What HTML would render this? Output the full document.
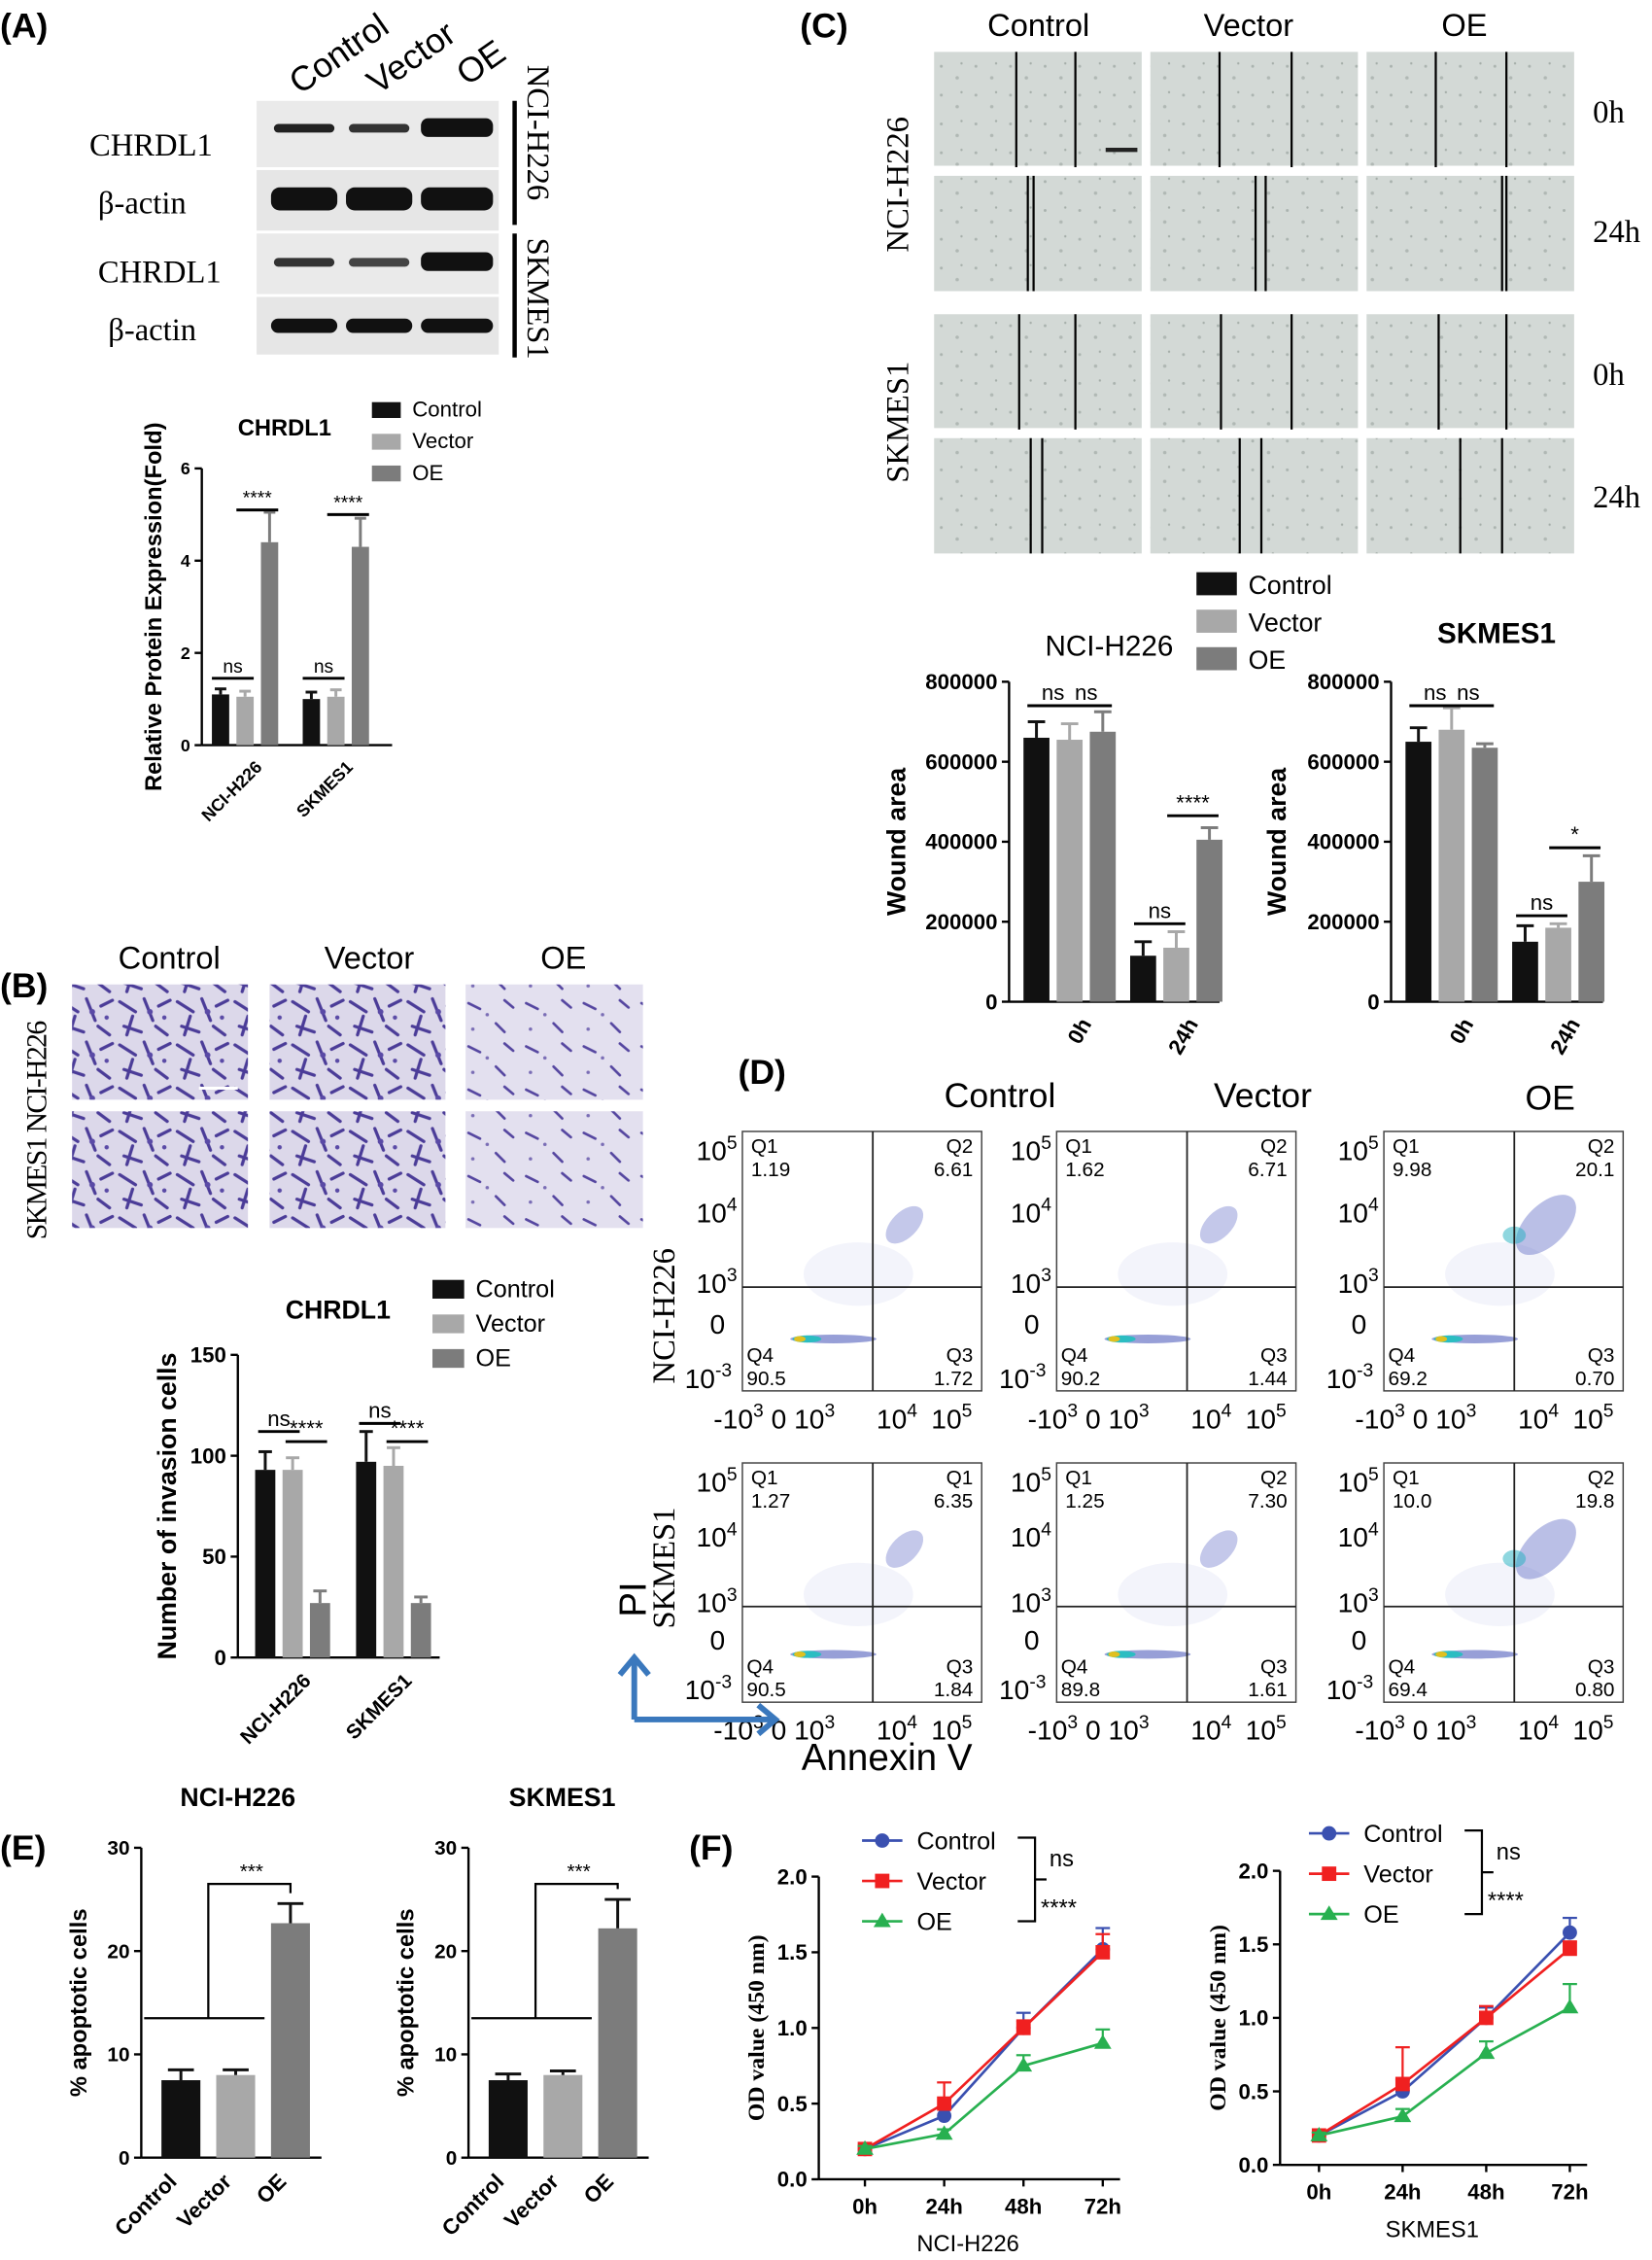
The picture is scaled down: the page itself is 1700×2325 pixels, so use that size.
<!DOCTYPE html>
<html><head><meta charset="utf-8">
<style>
html,body{margin:0;padding:0;background:#fff;}
svg{display:block;font-family:"Liberation Sans",sans-serif;}
.serif{font-family:"Liberation Serif",serif;}
.b{font-weight:bold;}
</style></head>
<body>
<svg id="fig" width="1700" height="2325" viewBox="0 0 1146 1568" preserveAspectRatio="none" xmlns="http://www.w3.org/2000/svg">
<defs>
<pattern id="cells" width="40" height="30" patternUnits="userSpaceOnUse">
<rect width="40" height="30" fill="#dcd8ea"/>
<path d="M3 5 L14 12 M20 3 L26 18 M30 8 L38 4 M6 22 L18 26 M28 22 L36 28 M12 15 L8 28" stroke="#4b3c98" stroke-width="2.2" stroke-linecap="round"/>
<circle cx="24" cy="12" r="2" fill="#5a4aa6"/><circle cx="34" cy="16" r="1.5" fill="#5a4aa6"/>
</pattern>
<pattern id="cellsLight" width="40" height="30" patternUnits="userSpaceOnUse">
<rect width="40" height="30" fill="#e3e0ef"/>
<path d="M5 6 L13 10 M24 20 L30 26 M30 4 L36 9" stroke="#5546a0" stroke-width="1.8" stroke-linecap="round"/>
<circle cx="18" cy="14" r="1.2" fill="#7a6db5"/><circle cx="8" cy="24" r="1.2" fill="#7a6db5"/>
</pattern>
<pattern id="wound" width="24" height="20" patternUnits="userSpaceOnUse">
<rect width="24" height="20" fill="#d3d9d6"/>
<circle cx="5" cy="6" r="1" fill="#aab3af"/><circle cx="16" cy="14" r="1.2" fill="#b0b8b4"/><circle cx="19" cy="4" r="0.8" fill="#a5aea9"/>
</pattern>
<marker id="arrow" markerUnits="userSpaceOnUse" markerWidth="20" markerHeight="24" refX="12" refY="12" orient="auto"><path d="M2,2 L14,12 L2,22" fill="none" stroke="#3a78bd" stroke-width="4"/></marker>
</defs>

<text x="0" y="26" font-size="24" class="b">(A)</text>
<text x="0" y="692" font-size="24" class="b">(B)</text>
<text x="555" y="26" font-size="24" class="b">(C)</text>
<text x="512" y="752" font-size="24" class="b">(D)</text>
<text x="0" y="1290" font-size="24" class="b">(E)</text>
<text x="478" y="1290" font-size="24" class="b">(F)</text>

<g>
<text transform="translate(208,66) rotate(-35)" font-size="24">Control</text>
<text transform="translate(262,66) rotate(-35)" font-size="24">Vector</text>
<text transform="translate(324,60) rotate(-35)" font-size="24">OE</text>
<rect x="178" y="70" width="168" height="46" fill="#eaeaea"/>
<rect x="178" y="118" width="168" height="42" fill="#e6e6e6"/>
<rect x="178" y="162" width="168" height="42" fill="#eaeaea"/>
<rect x="178" y="206" width="168" height="40" fill="#e6e6e6"/>
<rect x="190" y="86" width="42" height="6" rx="3" fill="#222"/>
<rect x="242" y="86" width="42" height="6" rx="3" fill="#333"/>
<rect x="292" y="82" width="50" height="13" rx="5" fill="#111"/>
<rect x="188" y="130" width="46" height="16" rx="6" fill="#111"/>
<rect x="240" y="130" width="46" height="16" rx="6" fill="#111"/>
<rect x="292" y="130" width="50" height="16" rx="6" fill="#111"/>
<rect x="190" y="179" width="42" height="6" rx="3" fill="#333"/>
<rect x="242" y="179" width="42" height="6" rx="3" fill="#444"/>
<rect x="292" y="175" width="50" height="13" rx="5" fill="#111"/>
<rect x="188" y="221" width="46" height="10" rx="5" fill="#111"/>
<rect x="240" y="221" width="46" height="10" rx="5" fill="#111"/>
<rect x="292" y="221" width="50" height="10" rx="5" fill="#111"/>
<text x="62" y="108" font-size="22" class="serif">CHRDL1</text>
<text x="68" y="148" font-size="22" class="serif">β-actin</text>
<text x="68" y="196" font-size="22" class="serif">CHRDL1</text>
<text x="75" y="236" font-size="22" class="serif">β-actin</text>
<line x1="357" y1="70" x2="357" y2="156" stroke="#000" stroke-width="3"/>
<line x1="357" y1="162" x2="357" y2="248" stroke="#000" stroke-width="3"/>
<text transform="translate(366,45) rotate(90)" font-size="22" class="serif">NCI-H226</text>
<text transform="translate(366,165) rotate(90)" font-size="22" class="serif">SKMES1</text>
</g>

<g>
<text x="82" y="672" font-size="22">Control</text>
<text x="225" y="672" font-size="22">Vector</text>
<text x="375" y="672" font-size="22">OE</text>
<rect x="50" y="683" width="122" height="80" fill="url(#cells)"/>
<rect x="187" y="683" width="122" height="80" fill="url(#cells)"/>
<rect x="323" y="683" width="123" height="80" fill="url(#cellsLight)"/>
<rect x="50" y="771" width="122" height="81" fill="url(#cells)"/>
<rect x="187" y="771" width="122" height="81" fill="url(#cells)"/>
<rect x="323" y="771" width="123" height="81" fill="url(#cellsLight)"/>
<line x1="138" y1="755" x2="165" y2="755" stroke="#fff" stroke-width="2"/>
<text transform="translate(32,860) rotate(-90)" font-size="20" class="serif" textLength="152">SKMES1 NCI-H226</text>
</g>

<g>
<text x="685" y="25" font-size="22">Control</text>
<text x="835" y="25" font-size="22">Vector</text>
<text x="1000" y="25" font-size="22">OE</text>
<text x="1105" y="85" font-size="22" class="serif">0h</text>
<text x="1105" y="168" font-size="22" class="serif">24h</text>
<text x="1105" y="267" font-size="22" class="serif">0h</text>
<text x="1105" y="352" font-size="22" class="serif">24h</text>
<text transform="translate(630,175) rotate(-90)" font-size="22" class="serif">NCI-H226</text>
<text transform="translate(630,335) rotate(-90)" font-size="22" class="serif">SKMES1</text>
<g id="woundGrid"></g>
</g>

<g>
<text x="655" y="768" font-size="24">Control</text>
<text x="842" y="768" font-size="24">Vector</text>
<text x="1058" y="770" font-size="24">OE</text>
<text transform="translate(468,960) rotate(-90)" font-size="22" class="serif">NCI-H226</text>
<text transform="translate(468,1130) rotate(-90)" font-size="22" class="serif">SKMES1</text>
<g id="flowGrid"></g>
<path d="M440 1193 L440 1152" stroke="#3a78bd" stroke-width="4" marker-end="url(#arrow)" fill="none"/>
<path d="M440 1193 L536 1193" stroke="#3a78bd" stroke-width="4" marker-end="url(#arrow)" fill="none"/>
<text transform="translate(448,1122) rotate(-90)" font-size="26">PI</text>
<text x="556" y="1228" font-size="26">Annexin V</text>
</g>

<g id="charts"></g>
</svg>

<script>
// ===== DATA =====
const aCats = ['NCI-H226', 'SKMES1'];
const aControl = [1.1, 1.0];
const aVector = [1.05, 1.05];
const aOE = [4.4, 4.3];
const aErrCtrl = [0.12, 0.15];
const aErrVec = [0.12, 0.15];
const aErrOE = [0.65, 0.62];
const aTicks = [0, 2, 4, 6];

const bCats = ['NCI-H226', 'SKMES1'];
const bControl = [93, 97];
const bVector = [93, 95];
const bOE = [27, 27];
const bErrCtrl = [9, 15];
const bErrVec = [6, 9];
const bErrOE = [6, 3];
const bTicks = [0, 50, 100, 150];

const cCats = ['0h', '24h'];
const cH226Control = [660000, 115000];
const cH226Vector = [655000, 135000];
const cH226OE = [675000, 405000];
const cH226ErrCtrl = [40000, 35000];
const cH226ErrVec = [40000, 40000];
const cH226ErrOE = [50000, 30000];
const cSKControl = [650000, 150000];
const cSKVector = [680000, 185000];
const cSKOE = [635000, 300000];
const cSKErrCtrl = [35000, 40000];
const cSKErrVec = [55000, 10000];
const cSKErrOE = [10000, 65000];
const cTicks = [0, 200000, 400000, 600000, 800000];

const eCats = ['Control', 'Vector', 'OE'];
const eH226 = [7.5, 8.0, 22.7];
const eH226Err = [1.0, 0.5, 1.9];
const eSK = [7.5, 8.0, 22.2];
const eSKErr = [0.6, 0.4, 2.8];
const eTicks = [0, 10, 20, 30];

const fTimes = ['0h', '24h', '48h', '72h'];
const fH226Control = [0.2, 0.42, 1.0, 1.52];
const fH226Vector = [0.2, 0.5, 1.0, 1.5];
const fH226OE = [0.2, 0.3, 0.75, 0.9];
const fH226ErrCtrl = [0.02, 0.05, 0.1, 0.14];
const fH226ErrVec = [0.02, 0.14, 0.05, 0.12];
const fH226ErrOE = [0.02, 0.03, 0.07, 0.09];
const fSKControl = [0.2, 0.5, 1.0, 1.58];
const fSKVector = [0.2, 0.55, 1.0, 1.47];
const fSKOE = [0.2, 0.33, 0.76, 1.07];
const fSKErrCtrl = [0.02, 0.08, 0.07, 0.1];
const fSKErrVec = [0.02, 0.25, 0.08, 0.05];
const fSKErrOE = [0.02, 0.05, 0.08, 0.16];
const fTicks = [0, 0.5, 1.0, 1.5, 2.0];

const flowQ1 = ['1.19', '1.62', '9.98', '1.27', '1.25', '10.0'];
const flowQ2 = ['6.61', '6.71', '20.1', '6.35', '7.30', '19.8'];
const flowQ3 = ['1.72', '1.44', '0.70', '1.84', '1.61', '0.80'];
const flowQ4 = ['90.5', '90.2', '69.2', '90.5', '89.8', '69.4'];
const flowQ1Label = ['Q1', 'Q1', 'Q1', 'Q1', 'Q1', 'Q1'];
const flowQ2Label = ['Q2', 'Q2', 'Q2', 'Q1', 'Q2', 'Q2'];

// ===== HELPERS =====
const NS = 'http://www.w3.org/2000/svg';
const root = document.getElementById('charts');
function mk(tag, attrs, parent) {
  const el = document.createElementNS(NS, tag);
  for (const k in attrs) el.setAttribute(k, attrs[k]);
  (parent || root).appendChild(el);
  return el;
}
function txt(s, attrs, parent) { const t = mk('text', attrs, parent); t.textContent = s; return t; }
const COLORS = ['#111111', '#a8a8a8', '#7c7c7c'];

function yAxis(g, x, y0, y1, vmax, ticks, fmt, fs) {
  const ax = mk('line', {x1: x, y1: y0, x2: x, y2: y1, stroke: '#000', 'stroke-width': 1.6}, g);
  
  
  ticks.forEach(t => {
    const y = y0 - t / vmax * (y0 - y1);
    mk('line', {x1: x - 5, y1: y, x2: x, y2: y, stroke: '#000', 'stroke-width': 1.6}, g);
    const lab = txt(fmt(t), {x: x - 8, y: y + fs * 0.35, 'font-size': fs, 'text-anchor': 'end', 'font-weight': 'bold'}, g);
    
    
  });
}

function barChart(o) {
  const g = mk('g', {});
  
  
  const sy = v => o.y0 - v / o.vmax * (o.y0 - o.y1);
  yAxis(g, o.x, o.y0, o.y1, o.vmax, o.ticks, o.fmt, o.tfs);
  const xa = mk('line', {x1: o.x, y1: o.y0, x2: o.xEnd, y2: o.y0, stroke: '#000', 'stroke-width': 1.6}, g);
  
  
  o.cats.forEach((c, i) => {
    const gx = o.gStart + i * o.gGap;
    o.series.forEach((s, j) => {
      const bx = gx + j * o.step;
      const v = s[i], e = o.errs[j][i];
      const col = COLORS[j];
      const r = mk('rect', {x: bx, y: sy(v), width: o.bw, height: o.y0 - sy(v), fill: col}, g);
      
      
      const cx = bx + o.bw / 2;
      mk('line', {x1: cx, y1: sy(v), x2: cx, y2: sy(v + e), stroke: col, 'stroke-width': 2}, g);
      mk('line', {x1: cx - o.bw / 3, y1: sy(v + e), x2: cx + o.bw / 3, y2: sy(v + e), stroke: col, 'stroke-width': 2}, g);
    });
    const lx = gx + (o.series.length * o.step) / 2 - 2;
    const lab = txt(c, {transform: `translate(${lx + (o.xlRot ? 6 : 0)},${o.y0 + 10}) rotate(${o.xlRot})`, 'font-size': o.xfs, 'text-anchor': o.xlRot ? 'end' : 'middle', 'font-weight': 'bold', dy: '0.7em'}, g);
    
    
    if (o.sig) o.sig[i].forEach(sg => {
      const [a, b, label, val] = sg;
      const ya = sy(val);
      const x1 = gx + a * o.step + (o.sigPad ? 1 : 0), x2 = gx + b * o.step + (o.sigPad ? o.bw - 1 : o.bw);
      const sl = mk('line', {x1: o.sigPad ? gx + a * o.step + o.bw * 0.15 : x1, y1: ya, x2: o.sigPad ? gx + b * o.step + o.bw * 0.85 : x2, y2: ya, stroke: '#000', 'stroke-width': 2}, g);
      
      
      const t = txt(label, {x: (x1 + x2) / 2, y: ya - 4, 'font-size': o.sfs, 'text-anchor': 'middle'}, g);
      
      
    });
  });
  const yl = txt(o.ylabel, {transform: `translate(${o.ylx},${(o.y0 + o.y1) / 2}) rotate(-90)`, 'font-size': o.yfs, 'text-anchor': 'middle', 'font-weight': 'bold'}, g);
  
  
  return {g, sy};
}

function legend(x, y, gap, w, h, fs, labels) {
  labels.forEach((l, i) => {
    const r = mk('rect', {x, y: y + i * gap, width: w, height: h, fill: COLORS[i]});
    
    
    const t = txt(l, {x: x + w + 8, y: y + i * gap + h - 1, 'font-size': fs});
    
    
  });
}

// ===== PANEL A =====
txt('CHRDL1', {x: 165, y: 302, 'font-size': 16, 'font-weight': 'bold'});
legend(258, 279, 22, 20, 11, 15, ['Control', 'Vector', 'OE']);
barChart({name: 'chart-a', cats: aCats, series: [aControl, aVector, aOE], errs: [aErrCtrl, aErrVec, aErrOE],
  x: 140, y0: 517, y1: 325, vmax: 6, ticks: aTicks, fmt: t => t, tfs: 12, xEnd: 272,
  gStart: 147, gGap: 63, step: 17, bw: 12, xlRot: -45, xfs: 12, ylabel: 'Relative Protein Expression(Fold)', ylx: 112, yfs: 16,
  sig: [[[0, 1, 'ns', 1.45], [1, 2, '****', 5.1]], [[0, 1, 'ns', 1.45], [1, 2, '****', 5.0]]], sfs: 13});

// ===== PANEL B =====
txt('CHRDL1', {x: 198, y: 915, 'font-size': 18, 'font-weight': 'bold'});
legend(300, 888, 24, 22, 13, 17, ['Control', 'Vector', 'OE']);
barChart({name: 'chart-b', cats: bCats, series: [bControl, bVector, bOE], errs: [bErrCtrl, bErrVec, bErrOE],
  x: 165, y0: 1150, y1: 940, vmax: 150, ticks: bTicks, fmt: t => t, tfs: 15, xEnd: 305,
  gStart: 177, gGap: 70, step: 19, bw: 14, xlRot: -45, xfs: 14, ylabel: 'Number of invasion cells', ylx: 122, yfs: 18,
  sig: [[[0, 1, 'ns', 112], [1, 2, '****', 107]], [[0, 1, 'ns', 116], [1, 2, '****', 107]]], sfs: 15, sigPad: true});

// ===== PANEL C =====
legend(830, 397, 26, 28, 16, 18, ['Control', 'Vector', 'OE']);
txt('NCI-H226', {x: 725, y: 455, 'font-size': 20});
txt('SKMES1', {x: 997, y: 446, 'font-size': 20, 'font-weight': 'bold'});
const cfmt = t => t;
barChart({name: 'chart-c-h226', cats: cCats, series: [cH226Control, cH226Vector, cH226OE], errs: [cH226ErrCtrl, cH226ErrVec, cH226ErrOE],
  x: 700, y0: 695, y1: 473, vmax: 800000, ticks: cTicks, fmt: cfmt, tfs: 15, xEnd: 846,
  gStart: 710, gGap: 74, step: 23, bw: 18, xlRot: -60, xfs: 15, ylabel: 'Wound area', ylx: 628, yfs: 18,
  sig: [[[0, 1, 'ns', 740000], [1, 2, 'ns', 740000]], [[0, 1, 'ns', 195000], [1, 2, '****', 465000]]], sfs: 15, sigPad: true});
barChart({name: 'chart-c-skmes1', cats: cCats, series: [cSKControl, cSKVector, cSKOE], errs: [cSKErrCtrl, cSKErrVec, cSKErrOE],
  x: 965, y0: 695, y1: 473, vmax: 800000, ticks: cTicks, fmt: cfmt, tfs: 15, xEnd: 1112,
  gStart: 975, gGap: 74, step: 23, bw: 18, xlRot: -60, xfs: 15, ylabel: 'Wound area', ylx: 892, yfs: 18,
  sig: [[[0, 1, 'ns', 740000], [1, 2, 'ns', 740000]], [[0, 1, 'ns', 215000], [1, 2, '*', 385000]]], sfs: 15, sigPad: true});

// ===== PANEL E =====
function eChart(name, title, tx, x, vals, errs) {
  txt(title, {x: tx, y: 1253, 'font-size': 18, 'font-weight': 'bold', 'text-anchor': 'middle'});
  const r = barChart({name, cats: eCats, series: [vals], errs: [errs],
    x, y0: 1497, y1: 1282, vmax: 30, ticks: eTicks, fmt: t => t, tfs: 14, xEnd: x + 125,
    gStart: x + 14, gGap: 38, step: 0, bw: 27, xlRot: -45, xfs: 15, ylabel: '% apoptotic cells', ylx: x - 38, yfs: 16});
  const rects = r.g.querySelectorAll('rect');
  rects.forEach((el, i) => el.setAttribute('fill', COLORS[i]));
  const sy = r.sy;
  const c0 = x + 14 + 13.5, c1 = x + 52 + 13.5, c2 = x + 90 + 13.5;
  const yb = sy(13.5), yt = sy(26.5);
  const br = mk('path', {d: `M${x + 2} ${yb} L${c1 + 20} ${yb} M${(c0 + c1) / 2} ${yb} L${(c0 + c1) / 2} ${yt} L${c2} ${yt} L${c2} ${sy(vals[2] + errs[2] + 1)}`, fill: 'none', stroke: '#000', 'stroke-width': 1.5}, r.g);
  
  
  const t = txt('***', {x: (c0 + c1) / 2 + 30, y: yt - 4, 'font-size': 14, 'text-anchor': 'middle'}, r.g);
  
  
}
eChart('chart-e-h226', 'NCI-H226', 165, 98, eH226, eH226Err);
eChart('chart-e-skmes1', 'SKMES1', 390, 325, eSK, eSKErr);

// ===== PANEL F =====
const fColors = ['#3a50b0', '#f02020', '#28b050'];
function fChart(name, x, y0, y1, x0, dx, series, errs, sub, lx, ly) {
  const g = mk('g', {});
  
  
  const sy = v => y0 - v / 2.0 * (y0 - y1);
  const sx = i => x0 + i * dx;
  yAxis(g, x, y0, y1, 2.0, fTicks, t => t.toFixed(1), 15);
  const xa = mk('line', {x1: x, y1: y0, x2: sx(3) + 12, y2: y0, stroke: '#000', 'stroke-width': 1.6}, g);
  
  
  fTimes.forEach((t, i) => {
    mk('line', {x1: sx(i), y1: y0, x2: sx(i), y2: y0 + 5, stroke: '#000', 'stroke-width': 1.6}, g);
    const l = txt(t, {x: sx(i), y: y0 + 24, 'font-size': 15, 'font-weight': 'bold', 'text-anchor': 'middle'}, g);
    
    
  });
  const st = txt(sub, {x: (x + sx(3)) / 2 + 5, y: y0 + 50, 'font-size': 16, 'text-anchor': 'middle'}, g);
  
  
  const yl = txt('OD value (450 nm)', {transform: `translate(${x - 38},${(y0 + y1) / 2}) rotate(-90)`, 'font-size': 16, 'text-anchor': 'middle', 'font-weight': 'bold', class: 'serif'}, g);
  
  
  series.forEach((s, j) => {
    const c = fColors[j];
    s.forEach((v, i) => {
      mk('line', {x1: sx(i), y1: sy(v), x2: sx(i), y2: sy(v + errs[j][i]), stroke: c, 'stroke-width': 1.5}, g);
      mk('line', {x1: sx(i) - 5, y1: sy(v + errs[j][i]), x2: sx(i) + 5, y2: sy(v + errs[j][i]), stroke: c, 'stroke-width': 1.5}, g);
    });
    const pl = mk('polyline', {points: s.map((v, i) => sx(i) + ',' + sy(v)).join(' '), fill: 'none', stroke: c, 'stroke-width': 1.8}, g);
    
    
    s.forEach((v, i) => {
      let m;
      if (j === 0) m = mk('circle', {cx: sx(i), cy: sy(v), r: 5, fill: c}, g);
      else if (j === 1) m = mk('rect', {x: sx(i) - 5, y: sy(v) - 5, width: 10, height: 10, fill: c}, g);
      else m = mk('path', {d: `M${sx(i)} ${sy(v) - 6} L${sx(i) + 6} ${sy(v) + 4} L${sx(i) - 6} ${sy(v) + 4}Z`, fill: c}, g);
      
      
    });
  });
  ['Control', 'Vector', 'OE'].forEach((l, j) => {
    const y = ly + j * 28;
    mk('line', {x1: lx, y1: y, x2: lx + 28, y2: y, stroke: fColors[j], 'stroke-width': 1.8}, g);
    if (j === 0) mk('circle', {cx: lx + 14, cy: y, r: 5, fill: fColors[j]}, g);
    else if (j === 1) mk('rect', {x: lx + 9, y: y - 5, width: 10, height: 10, fill: fColors[j]}, g);
    else mk('path', {d: `M${lx + 14} ${y - 6} L${lx + 20} ${y + 4} L${lx + 8} ${y + 4}Z`, fill: fColors[j]}, g);
    const t = txt(l, {x: lx + 38, y: y + 6, 'font-size': 17}, g);
    
    
  });
  const bx = lx + 108;
  mk('path', {d: `M${bx} ${ly - 2} L${bx + 12} ${ly - 2} L${bx + 12} ${ly + 56} L${bx} ${ly + 56} M${bx + 12} ${ly + 27} L${bx + 20} ${ly + 27}`, fill: 'none', stroke: '#000', 'stroke-width': 1.5}, g);
  txt('ns', {x: bx + 22, y: ly + 18, 'font-size': 16}, g);
  txt('****', {x: bx + 16, y: ly + 52, 'font-size': 16}, g);
}
fChart('chart-f-h226', 568, 1512, 1302, 600, 55, [fH226Control, fH226Vector, fH226OE], [fH226ErrCtrl, fH226ErrVec, fH226ErrOE], 'NCI-H226', 598, 1277);
fChart('chart-f-skmes1', 888, 1502, 1298, 915, 58, [fSKControl, fSKVector, fSKOE], [fSKErrCtrl, fSKErrVec, fSKErrOE], 'SKMES1', 908, 1272);

// ===== Wound images =====
const wg = document.getElementById('woundGrid');
const wCols = [648, 798, 948];
const wRows = [36, 122, 218, 304];
const wGap = [[[705, 746], [846, 896], [996, 1045]], [[713, 717], [871, 878], [1042, 1045]], [[707, 746], [847, 896], [998, 1045]], [[715, 723], [860, 875], [1013, 1042]]];
wRows.forEach((y, r) => wCols.forEach((x, c) => {
  const im = mk('rect', {x, y, width: 144, height: r % 2 ? 80 : 79, fill: 'url(#wound)'}, wg);
  
  
  wGap[r][c].forEach(lx => mk('line', {x1: lx, y1: y, x2: lx, y2: y + 80, stroke: '#000', 'stroke-width': 1.5}, wg));
}));
mk('line', {x1: 767, y1: 104, x2: 789, y2: 104, stroke: '#222', 'stroke-width': 3}, wg);

// ===== Flow plots =====
const fg = document.getElementById('flowGrid');
const boxX = [515, 733, 960];
const boxY = [785, 1015];
let k = 0;
boxY.forEach((by, r) => boxX.forEach((bx, c) => {
  const w = 166, h = r ? 166 : 180;
  const g = mk('g', {}, fg);
  
  
  mk('rect', {x: bx, y: by, width: w, height: h, fill: '#fff', stroke: '#444', 'stroke-width': 1}, g);
  const qx = bx + w * 0.545, qy = by + h * 0.6;
  const oe = c === 2;
  mk('ellipse', {cx: qx - 10, cy: by + h * 0.55, rx: 38, ry: 22, fill: '#6070d0', opacity: 0.08}, g);
  mk('ellipse', {cx: bx + w * 0.38, cy: by + h * 0.8, rx: w * 0.18, ry: 3, fill: '#3040b0', opacity: 0.5}, g);
  mk('ellipse', {cx: bx + w * 0.27, cy: by + h * 0.8, rx: 10, ry: 2.5, fill: '#20c0c0', opacity: 0.9}, g);
  mk('ellipse', {cx: bx + w * 0.24, cy: by + h * 0.8, rx: 4, ry: 2, fill: '#e0c020'}, g);
  mk('ellipse', {cx: qx + 22, cy: by + h * 0.36, rx: oe ? 26 : 16, ry: oe ? 14 : 9, fill: '#3a48b8', opacity: oe ? 0.35 : 0.3, transform: `rotate(-45 ${qx + 22} ${by + h * 0.36})`}, g);
  if (oe) mk('ellipse', {cx: qx, cy: by + h * 0.4, rx: 8, ry: 6, fill: '#20b0c0', opacity: 0.5}, g);
  mk('line', {x1: qx, y1: by, x2: qx, y2: by + h, stroke: '#222', 'stroke-width': 1.2}, g);
  mk('line', {x1: bx, y1: qy, x2: bx + w, y2: qy, stroke: '#222', 'stroke-width': 1.2}, g);
  txt(flowQ1Label[k], {x: bx + 6, y: by + 15, 'font-size': 14}, g);
  txt(flowQ1[k], {x: bx + 6, y: by + 31, 'font-size': 14}, g);
  txt(flowQ2Label[k], {x: bx + w - 6, y: by + 15, 'font-size': 14, 'text-anchor': 'end'}, g);
  txt(flowQ2[k], {x: bx + w - 6, y: by + 31, 'font-size': 14, 'text-anchor': 'end'}, g);
  txt('Q4', {x: bx + 3, y: by + h - 20, 'font-size': 14}, g);
  txt(flowQ4[k], {x: bx + 3, y: by + h - 4, 'font-size': 14}, g);
  txt('Q3', {x: bx + w - 6, y: by + h - 20, 'font-size': 14, 'text-anchor': 'end'}, g);
  txt(flowQ3[k], {x: bx + w - 6, y: by + h - 4, 'font-size': 14, 'text-anchor': 'end'}, g);
  const yl = [[by + 20, '10', '5'], [by + h * 0.35, '10', '4'], [qy + 4, '10', '3']];
  yl.forEach(([yy, b, e]) => { const t = txt(b, {x: bx - 32, y: yy, 'font-size': 19}, g); const s = mk('tspan', {dy: -8, 'font-size': 13}, t); s.textContent = e; });
  txt('0', {x: bx - 12, y: by + h * 0.78, 'font-size': 19, 'text-anchor': 'end'}, g);
  { const t = txt('10', {x: bx - 40, y: by + h - 2, 'font-size': 19}, g); const s = mk('tspan', {dy: -8, 'font-size': 13}, t); s.textContent = '-3'; }
  const xl = [[bx - 20, '-10', '3'], [bx + 20, '0 10', '3'], [bx + 93, '10', '4'], [bx + 131, '10', '5']];
  xl.forEach(([xx, b, e]) => { const t = txt(b, {x: xx, y: by + h + 26, 'font-size': 19}, g); const s = mk('tspan', {dy: -8, 'font-size': 13}, t); s.textContent = e; });
  k++;
}));
</script>
</body></html>
